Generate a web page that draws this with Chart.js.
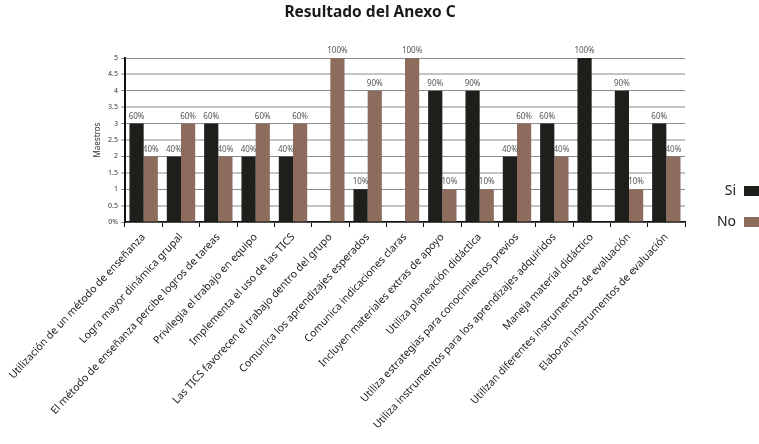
<!DOCTYPE html>
<html>
<head>
<meta charset="utf-8">
<script src="https://cdn.jsdelivr.net/npm/chart.js@4.4.0/dist/chart.umd.min.js"></script>
<style>
html,body{margin:0;padding:0;background:#fff;}
#wrap{width:759px;height:444px;position:relative;}
</style>
</head>
<body>
<div id="wrap"><canvas id="c" width="759" height="444"></canvas></div>
<script>
const categories = [
  "Utilización de un método de enseñanza",
  "Logra mayor dinámica grupal",
  "El método de enseñanza percibe logros de tareas",
  "Privilegia el trabajo en equipo",
  "Implementa el uso de las TICS",
  "Las TICS favorecen el trabajo dentro del grupo",
  "Comunica los aprendizajes esperados",
  "Comunica indicaciones claras",
  "Incluyen materiales extras de apoyo",
  "Utiliza planeación didáctica",
  "Utiliza estrategias para conocimientos previos",
  "Utiliza instrumentos para los aprendizajes adquiridos",
  "Maneja material didáctico",
  "Utilizan diferentes instrumentos de evaluación",
  "Elaboran instrumentos de evaluación"
];
const siValues = [3, 2, 3, 2, 2, 0, 1, 0, 4, 4, 2, 3, 5, 4, 3];
const noValues = [2, 3, 2, 3, 3, 5, 4, 5, 1, 1, 3, 2, 0, 1, 2];
const siPct = ["60%","40%","60%","40%","40%","","10%","","90%","90%","40%","60%","100%","90%","60%"];
const noPct = ["40%","60%","40%","60%","60%","100%","90%","100%","10%","10%","60%","40%","","10%","40%"];
const yTickLabels = ["0%","0.5","1","1.5","2","2.5","3","3.5","4","4.5","5"];
const seriesNames = ["Si", "No"];
const titleText = "Resultado del Anexo C";
const yTitle = "Maestros";

const SI_COLOR = "#1e1e1b";
const NO_COLOR = "#8b6c5d";
const FONT = "'Noto Sans', 'DejaVu Sans', sans-serif";

const pctLists = [siPct, noPct];

const extrasPlugin = {
  id: "extras",
  afterDatasetsDraw(chart) {
    const ctx = chart.ctx;
    ctx.save();
    ctx.font = "8px " + FONT;
    ctx.fillStyle = "#555";
    ctx.textAlign = "center";
    ctx.textBaseline = "bottom";
    chart.data.datasets.forEach((ds, di) => {
      const meta = chart.getDatasetMeta(di);
      meta.data.forEach((bar, i) => {
        const t = pctLists[di][i];
        if (!t) return;
        ctx.fillText(t, bar.x, bar.y - 3);
      });
    });
    ctx.font = "bold 15.5px " + FONT;
    ctx.fillStyle = "#1a1a1a";
    ctx.textAlign = "center";
    ctx.textBaseline = "middle";
    ctx.fillText(titleText, 370, 13);
    const items = [[seriesNames[0], SI_COLOR, 191], [seriesNames[1], NO_COLOR, 222]];
    ctx.font = "14px " + FONT;
    ctx.textAlign = "right";
    items.forEach(([name, col, y]) => {
      ctx.fillStyle = "#1a1a1a";
      ctx.fillText(name, 736, y);
      ctx.fillStyle = col;
      ctx.fillRect(744, y - 5, 15, 10);
    });
    ctx.restore();
  }
};

new Chart(document.getElementById("c"), {
  type: "bar",
  data: {
    labels: categories,
    datasets: [
      { label: seriesNames[0], data: siValues, backgroundColor: SI_COLOR, barPercentage: 1.0, categoryPercentage: 0.76 },
      { label: seriesNames[1], data: noValues, backgroundColor: NO_COLOR, barPercentage: 1.0, categoryPercentage: 0.76 }
    ]
  },
  options: {
    responsive: false,
    animation: false,
    devicePixelRatio: 1,
    layout: { padding: { top: 58, right: 74, left: 93, bottom: 0 } },
    plugins: {
      legend: { display: false },
      title: { display: false },
      tooltip: { enabled: false }
    },
    scales: {
      x: {
        afterFit(scale) { scale.height = 222; scale.paddingLeft = 0; scale.paddingRight = 0; },
        border: { color: "#111", width: 1.5 },
        grid: { offset: true, drawOnChartArea: false, drawTicks: true, tickLength: 5, color: "#111", lineWidth: 1 },
        ticks: {
          autoSkip: false,
          minRotation: 47,
          maxRotation: 47,
          padding: 4,
          color: "#222",
          font: { family: FONT, size: 10.5 }
        }
      },
      y: {
        min: 0,
        max: 5,
        afterFit(scale) { scale.width = 32; },
        border: { color: "#111", width: 2 },
        grid: {
          color: (c) => (c.tick && Number.isInteger(c.tick.value)) ? "#8c8c8c" : "#c4c4c4",
          lineWidth: (c) => (c.tick && Number.isInteger(c.tick.value)) ? 1 : 2,
          tickLength: 4,
          drawTicks: true
        },
        ticks: {
          stepSize: 0.5,
          padding: 3,
          color: "#333",
          font: { family: FONT, size: 7 },
          callback: (v, i) => yTickLabels[i]
        },
        title: {
          display: true,
          text: yTitle,
          color: "#333",
          font: { family: FONT, size: 8 },
          padding: { top: 0, bottom: 2 }
        }
      }
    }
  },
  plugins: [extrasPlugin]
});
</script>
</body>
</html>
